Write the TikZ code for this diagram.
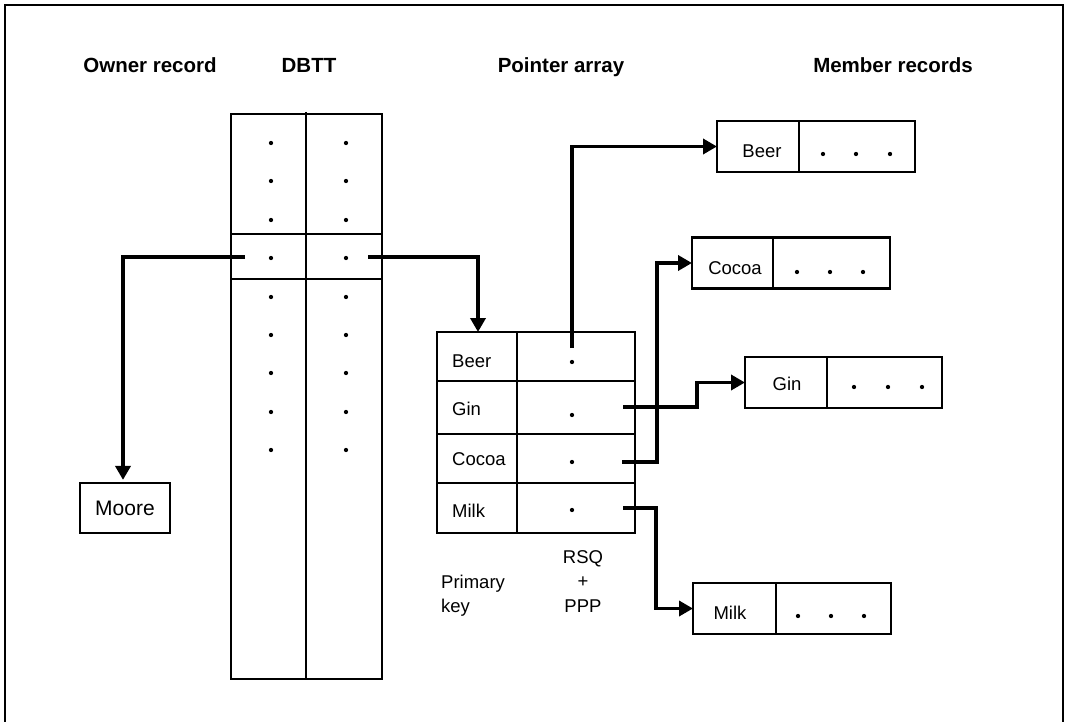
\documentclass[tikz,border=0pt]{standalone}
\usepackage{fontspec}
\setmainfont{Liberation Sans}
\usetikzlibrary{arrows.meta,calc}
\newcommand\regfont{\fontsize{18.5}{24.5}\selectfont}
\newcommand\bigfont{\fontsize{21}{24.5}\selectfont}
\newcommand\ttlfont{\fontsize{20.5}{24}\selectfont\bfseries}
\begin{document}
\begin{tikzpicture}[x=1pt,y=-1pt,
  tbl/.style={line width=2.2pt},
  cellbox/.style={draw,line width=2.2pt,inner sep=0pt,outer sep=0pt,minimum height=51pt},
  txt/.style={font=\regfont,inner sep=0pt,text height=13.2pt,text depth=0pt},
  ttl/.style={font=\ttlfont,inner sep=0pt,anchor=base},
  dotn/.style={circle,fill=black,inner sep=0pt,minimum size=4.3pt},
  conn/.style={line width=3.5pt,-{Triangle[length=14pt,width=15pt]}}]
\useasboundingbox (0,0) rectangle (1067,722);
% frame
\draw[line width=1.3pt] (5,722) -- (5,5) -- (1063,5) -- (1063,722);
% titles
\node[ttl] (tOwner) at (150,73) {Owner record};
\node[ttl] (tDBTT) at (309,73) {DBTT};
\node[ttl] (tPtr) at (561,73) {Pointer array};
\node[ttl] (tMem) at (893,73) {Member records};
% DBTT table
\node[draw,tbl,minimum width=151pt,minimum height=565pt,inner sep=0pt] (dbtt) at (306.5,396.5) {};
\draw[tbl] (306,112) -- (306,679);
\draw[tbl] (231,234) -- (382,234);
\draw[tbl] (231,279) -- (382,279);
\foreach \i/\y in {1/143,2/181,3/220,4/258,5/297,6/335,7/373,8/412,9/450}{
  \node[dotn] (dl\i) at (271,\y) {};
  \node[dotn] (dr\i) at (346,\y) {};
}
% owner record
\node[draw,tbl,minimum width=90pt,minimum height=50pt,inner sep=0pt,font=\bigfont] (moore) at (125,508) {Moore};
% pointer array
\node[draw,tbl,minimum width=198pt,minimum height=201pt,inner sep=0pt] (parr) at (536,432.5) {};
\draw[tbl] (517,332) -- (517,533);
\draw[tbl] (437,381) -- (635,381);
\draw[tbl] (437,434) -- (635,434);
\draw[tbl] (437,483) -- (635,483);
\node[txt,anchor=west] (kBeer) at (452,361) {Beer};
\node[txt,anchor=west] (kGin) at (452,409) {Gin};
\node[txt,anchor=west] (kCocoa) at (452,459) {Cocoa};
\node[txt,anchor=west] (kMilk) at (452,511) {Milk};
\node[dotn] (pBeer) at (572,362) {};
\node[dotn] (pGin) at (572,415) {};
\node[dotn] (pCocoa) at (572,462) {};
\node[dotn] (pMilk) at (572,510) {};
\node[font=\regfont,inner sep=0pt,anchor=base west] (pk) at (441,588)
  {\begin{tabular}[t]{@{}l@{}}Primary\\key\end{tabular}};
\node[font=\regfont,inner sep=0pt,anchor=base] (rsq) at (583,563)
  {\begin{tabular}[t]{@{}c@{}}RSQ\\+\\PPP\end{tabular}};
% member records
\node[cellbox,minimum width=82pt] (mBeer) at (758,146.5) {};
\node[cellbox,minimum width=116pt,anchor=west] (mBeerV) at (mBeer.east) {};
\node[txt] (mBeerT) at (762,150.5) {Beer};
\node[cellbox,minimum width=81pt] (mCocoa) at (732.5,263) {};
\node[cellbox,minimum width=117pt,anchor=west] (mCocoaV) at (mCocoa.east) {};
\node[txt] (mCocoaT) at (735,268) {Cocoa};
\node[cellbox,minimum width=82pt] (mGin) at (786,382.5) {};
\node[cellbox,minimum width=115pt,anchor=west] (mGinV) at (mGin.east) {};
\node[txt] (mGinT) at (787,384) {Gin};
\node[cellbox,minimum width=83pt] (mMilk) at (734.5,608.5) {};
\node[cellbox,minimum width=115pt,anchor=west] (mMilkV) at (mMilk.east) {};
\node[txt] (mMilkT) at (730,613) {Milk};
\foreach \x in {823,856,890}{\node[dotn] at (\x,154) {};}
\foreach \x in {797,830,863}{\node[dotn] at (\x,272) {};}
\foreach \x in {854,888,922}{\node[dotn] at (\x,387) {};}
\foreach \x in {798,831,864}{\node[dotn] at (\x,616) {};}
% connectors
\coordinate (ownOut) at (245,257);
\coordinate (ptrOut) at (368,257);
\coordinate (ptrIn) at (478,332);
\coordinate (beerOut) at (572,348);
\coordinate (ginOut) at (623,407);
\coordinate (cocoaOut) at (622,462);
\coordinate (milkOut) at (623,508);
\draw[conn] (ownOut) -| ($(moore.north)+(-2,-2)$);
\draw[conn] (ptrOut) -| (ptrIn);
\draw[conn] (beerOut) |- (mBeer.west);
\draw[conn] (cocoaOut) -- (657,462) |- (mCocoa.west);
\draw[conn] (ginOut) -- (697,407) |- (mGin.west);
\draw[conn] (milkOut) -- (656,508) |- (mMilk.west);
\end{tikzpicture}
\end{document}
